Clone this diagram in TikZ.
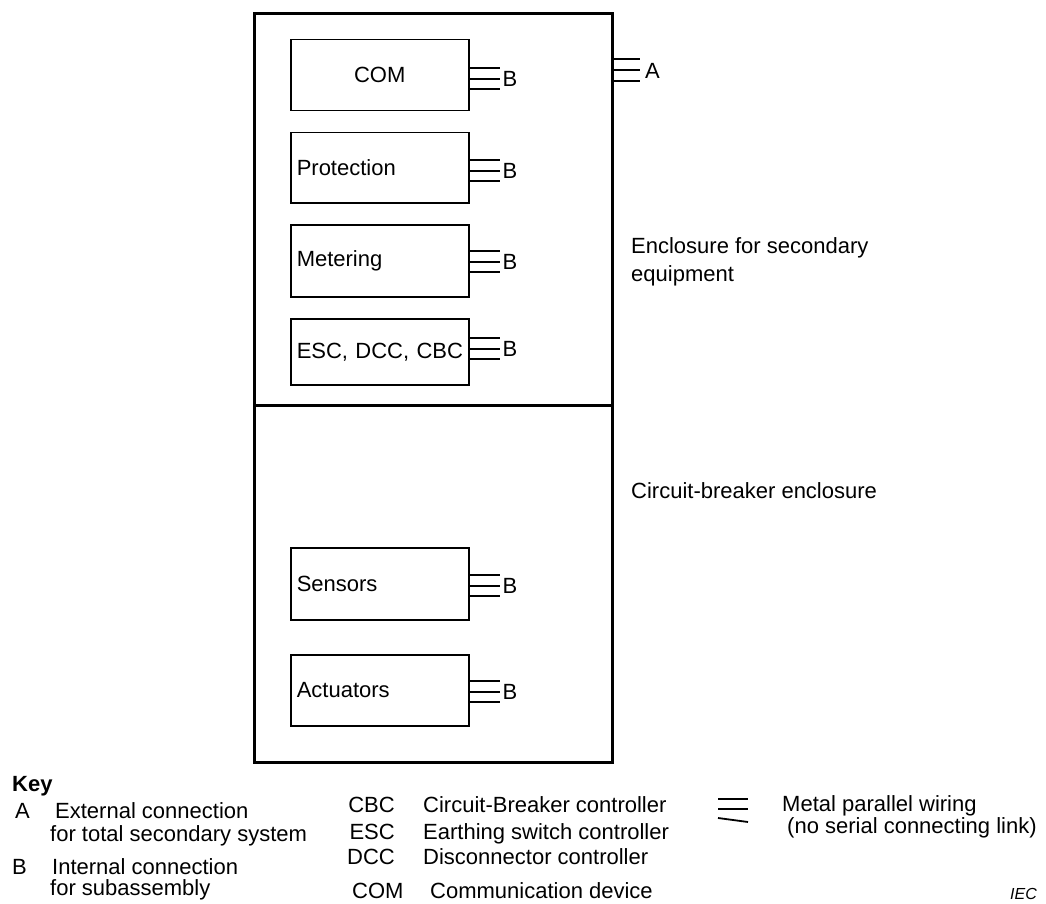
\documentclass[tikz,border=0pt]{standalone}
\usepackage{fontspec}
\setmainfont{Liberation Sans}
\begin{document}
\begin{tikzpicture}[x=1pt,y=-1pt,
  every node/.style={font=\fontsize{22}{28}\selectfont},
  enclosure/.style={draw, line width=3pt, minimum width=358pt, inner sep=0pt, anchor=north west},
  unit/.style={draw, line width=1.5pt, minimum width=178pt, text width=166pt,
    inner xsep=6pt, inner ysep=0pt, align=left, anchor=north west},
  wire/.style={line width=1.8pt},
  lbl/.style={inner sep=0pt, text height=15.8pt, text depth=0pt},
]
\useasboundingbox (0,0) rectangle (1046,904);

% the two enclosures
\node[enclosure, minimum height=392pt] (sec) at (253,12) {};
\node[enclosure, minimum height=357pt] (cb) at (253,404) {};

% subassemblies
\node[unit, minimum height=71pt, align=center] (com) at (290,39) {COM};
\node[unit, minimum height=70pt] (prot) at (290,132) {Protection};
\node[unit, minimum height=72pt] (met) at (290,224) {Metering};
\node[unit, minimum height=66pt] (esc) at (290,318) {\mbox{ESC, DCC, CBC}};
\node[unit, minimum height=72pt] (sens) at (290,547) {Sensors};
\node[unit, minimum height=71pt] (act) at (290,654) {Actuators};

% internal connections B
\foreach \u/\s in {com/-3.5, prot/-3, met/-1, esc/3, sens/-2, act/-1.5}{
  \foreach \d in {-10.5,0,10.5}
    \draw[wire] ([yshift={(\s+\d)*1pt}]\u.east) -- ++(30,0);
  \node[lbl, anchor=west] (b-\u) at ([xshift=33pt, yshift={\s*1pt}]\u.east) {B};
}

% external connection A
\coordinate (aport) at (612,70);
\foreach \d in {-11,0,11}
  \draw[wire] ([yshift={\d*1pt}]aport) -- ++(28,0);
\node[lbl, anchor=west] (alabel) at (645,71) {A};

% enclosure names
\node[inner sep=0pt, anchor=north west, align=left] (secname) at (631,237)
  {Enclosure for secondary\\equipment};
\node[lbl, anchor=west] (cbname) at (631,491) {Circuit-breaker enclosure};

% key
\node[lbl, anchor=west, font=\fontsize{22}{28}\selectfont\bfseries] (key) at (12,784) {Key};
\node[lbl, anchor=west] (ka) at (15,811) {A};
\node[lbl, anchor=west] (kat) at (55,811) {External connection};
\node[lbl, anchor=west] (kat2) at (50,834) {for total secondary system};
\node[lbl, anchor=west] (kb) at (12,867) {B};
\node[lbl, anchor=west] (kbt) at (52,867) {Internal connection};
\node[lbl, anchor=west] (kbt2) at (50,888) {for subassembly};

\node[lbl, anchor=east] (kcbc) at (395,805) {CBC};
\node[lbl, anchor=west] (kcbct) at (423,805) {Circuit-Breaker controller};
\node[lbl, anchor=east] (kesc) at (395,832) {ESC};
\node[lbl, anchor=west] (kesct) at (423,832) {Earthing switch controller};
\node[lbl, anchor=east] (kdcc) at (395,857) {DCC};
\node[lbl, anchor=west] (kdcct) at (423,857) {Disconnector controller};
\node[lbl, anchor=west] (kcom) at (352,891) {COM};
\node[lbl, anchor=west] (kcomt) at (430,891) {Communication device};

% parallel wiring symbol
\coordinate (w1) at (718,799);
\coordinate (w2) at (718,809);
\coordinate (w3) at (718,818);
\draw[wire] (w1) -- ++(30,0);
\draw[wire] (w2) -- ++(30,0);
\draw[wire] (w3) -- ++(30,4);
\node[lbl, anchor=west] (kwire) at (782,804) {Metal parallel wiring};
\node[lbl, anchor=west] (kwire2) at (787,826) {(no serial connecting link)};

\node[inner sep=0pt, text height=11.5pt, text depth=0pt, anchor=east,
  font=\fontsize{16}{18}\selectfont\itshape] (iec) at (1037,894) {IEC};
\end{tikzpicture}
\end{document}
